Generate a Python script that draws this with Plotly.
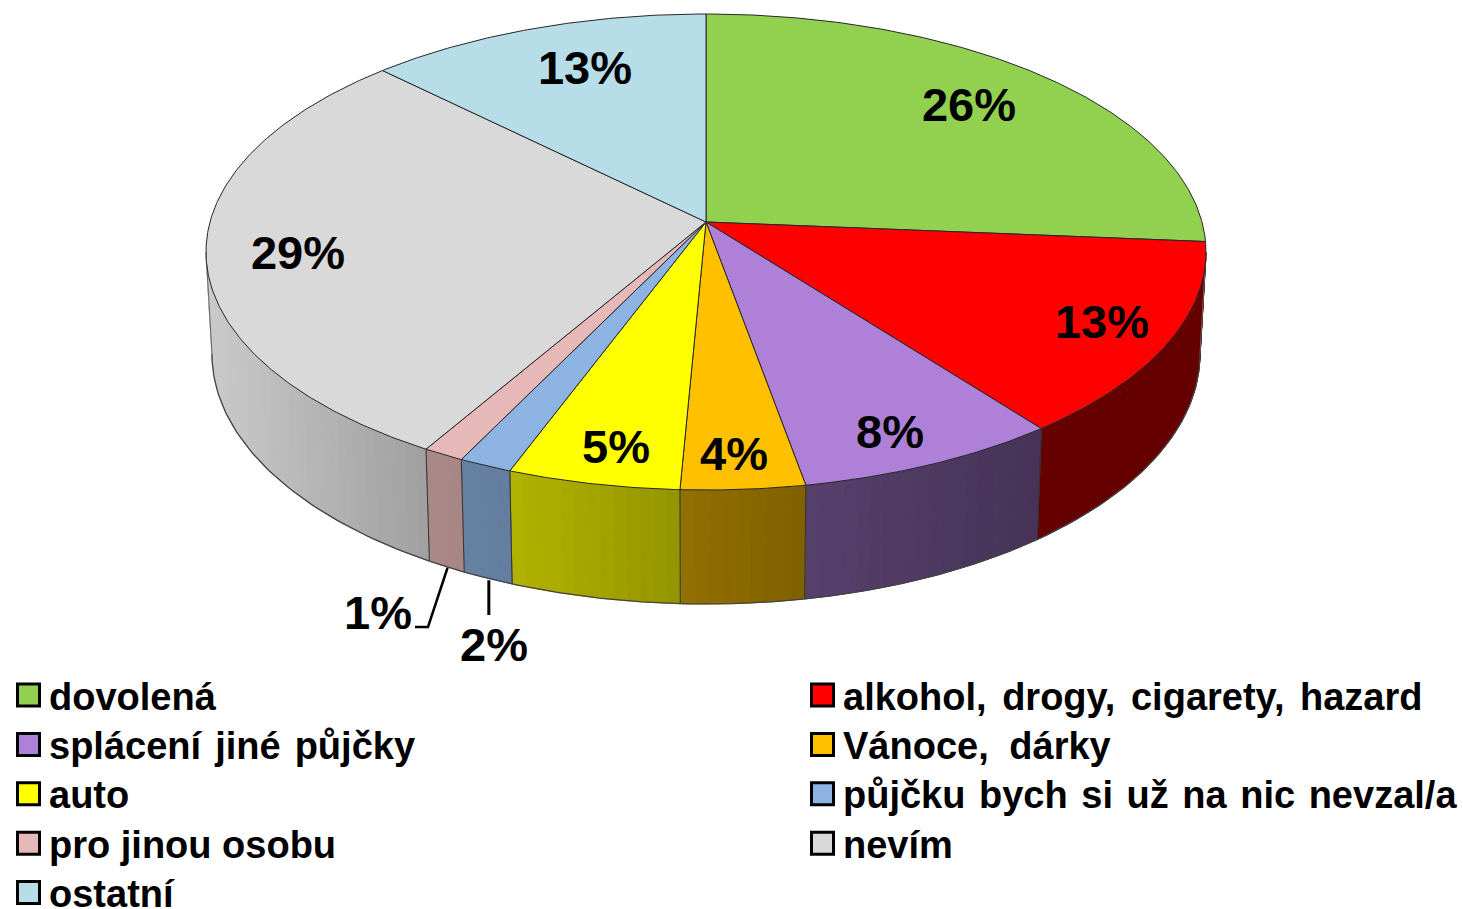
import json
import numpy as np
import plotly.graph_objects as go

# ---- data ----
categories = ["dovolená", "alkohol, drogy, cigarety, hazard", "splácení jiné půjčky", "Vánoce, dárky",
              "auto", "půjčku bych si už na nic nevzal/a", "pro jinou osobu", "nevím", "ostatní"]
shares = [24.3, 14.0, 8.5, 4.03, 5.59, 1.72, 1.32, 29.34, 11.2]   # drawn slice sizes
labels = ["26%", "13%", "8%", "4%", "5%", "2%", "1%", "29%", "13%"]
colors = ["#92d050", "#ff0000", "#ae80d8", "#ffc000", "#ffff00", "#8db3e2", "#e6b9b8", "#d9d9d9", "#b7dde8"]

# ---- projection of the tilted pie (pixel space of the page) ----
W, H = 1463, 909
APEX = (706, 222)
TOP = dict(cx=706, cy=252, rx=500, ry=238)
BOT = dict(cx=706, cy=354, rx=494, ry=250)
LABEL_POS = [(969, 109), (1102, 326), (890, 436), (734, 458), (616, 451), (494, 649), (378, 617), (298, 257), (585, 72)]
SHADE_X = [206, 420, 510, 680, 805, 1040, 1206]
SHADE_F = [.93, .74, .70, .58, .50, .40, .39]
WORD_GAP = [0, 5, 3.5, 10, 0, 3, 0, 0, 0]   # extra px between legend words
EDGE = "#26262a"


def rim(e, deg):
    t = np.radians(deg)
    return e["cx"] + e["rx"] * np.sin(t), e["cy"] - e["ry"] * np.cos(t)


def shade(hex_color, f):
    r, g, b = (int(hex_color[i:i + 2], 16) for i in (1, 3, 5))
    return f"rgb({r * f:.0f},{g * f:.0f},{b * f:.0f})"


fractions = np.array(shares) / sum(shares)
ends = np.cumsum(fractions) * 360
starts = ends - fractions * 360

fig = go.Figure()


def poly(x, y, fill, line=None, width=1):
    fig.add_trace(go.Scatter(x=x, y=y, mode="lines", fill="toself", fillcolor=fill,
                             line=dict(color=line or fill, width=width), hoverinfo="skip", showlegend=False))


def stroke(x, y, color=EDGE, width=1.2):
    fig.add_trace(go.Scatter(x=x, y=y, mode="lines", line=dict(color=color, width=width),
                             hoverinfo="skip", showlegend=False))


# side wall, lower half of the rim only
for s, e, c in zip(starts, ends, colors):
    a0, a1 = max(s, 90), min(e, 270)
    if a1 <= a0:
        continue
    n = max(2, int((a1 - a0) / 1.5))
    grid = np.linspace(a0, a1, n + 1)
    for g0, g1 in zip(grid[:-1], grid[1:]):
        sub = np.linspace(g0, g1, 3)
        tx, ty = rim(TOP, sub)
        bx, by = rim(BOT, sub)
        f = float(np.interp(tx.mean(), SHADE_X, SHADE_F))
        poly(list(tx) + list(bx[::-1]) + [tx[0]], list(ty) + list(by[::-1]) + [ty[0]], shade(c, f))
    # edges of this wall piece
    sub = np.linspace(a0, a1, 60)
    bx, by = rim(BOT, sub)
    stroke(bx, by, "#444444", 1.3)
    for a in (a0, a1):
        tx, ty = rim(TOP, a)
        bx, by = rim(BOT, a)
        stroke([tx, bx], [ty, by], "#666666" if a in (90, 270) else "#333333", 1)

# top face
for s, e, c in zip(starts, ends, colors):
    arc = np.linspace(s, e, max(8, int(e - s) * 2))
    ax, ay = rim(TOP, arc)
    poly([APEX[0]] + list(ax) + [APEX[0]], [APEX[1]] + list(ay) + [APEX[1]], c, EDGE, 1)

# leader lines for the two thin slices
mid = (starts + ends) / 2
bx, by = rim(BOT, mid[6])
stroke([bx + 1, 428, 415], [by + 1, 627, 627], "#000000", 2.5)
bx, by = rim(BOT, mid[5])
stroke([bx + 1, bx + 1], [by + 2, 615], "#000000", 3)

# percent labels
fig.add_trace(go.Scatter(x=[p[0] for p in LABEL_POS], y=[p[1] for p in LABEL_POS], mode="text", text=labels,
                         textposition="middle center", cliponaxis=False,
                         textfont=dict(family="Liberation Sans", size=47, color="#000000", weight="bold"),
                         hoverinfo="skip", showlegend=False))

# legend, two columns
rows = np.arange(len(categories)) // 2
cols = np.arange(len(categories)) % 2
swatch_x = 28.5 + cols * 794
swatch_y = 695 + rows * 49.4
fig.add_trace(go.Scatter(x=swatch_x, y=swatch_y, mode="markers", hoverinfo="skip", showlegend=False,
                         marker=dict(symbol="square", size=22, color=colors, line=dict(color="#000000", width=3))))
fig.add_trace(go.Scatter(x=49 + cols * 794, y=swatch_y + 5, mode="text", text=categories, textposition="middle right",
                         cliponaxis=False,
                         textfont=dict(family="Liberation Sans", size=38, color="#000000", weight="bold"),
                         hoverinfo="skip", showlegend=False))

fig.update_layout(width=W, height=H, margin=dict(l=0, r=0, t=0, b=0), paper_bgcolor="#ffffff", plot_bgcolor="#ffffff",
                  showlegend=False,
                  xaxis=dict(range=[0, W], visible=False, fixedrange=True),
                  yaxis=dict(range=[H, 0], visible=False, fixedrange=True))
gaps = json.dumps(dict(zip(categories, WORD_GAP)), ensure_ascii=False)
post = ("document.body.style.margin='0';document.body.style.overflow='hidden';"
        "var g=" + gaps + ";document.querySelectorAll('.textpoint text').forEach(function(t){"
        "var k=g[t.textContent];if(k){t.style.wordSpacing=k+'px';}});")
fig.write_html("out.html", post_script=post, config=dict(displayModeBar=False))
